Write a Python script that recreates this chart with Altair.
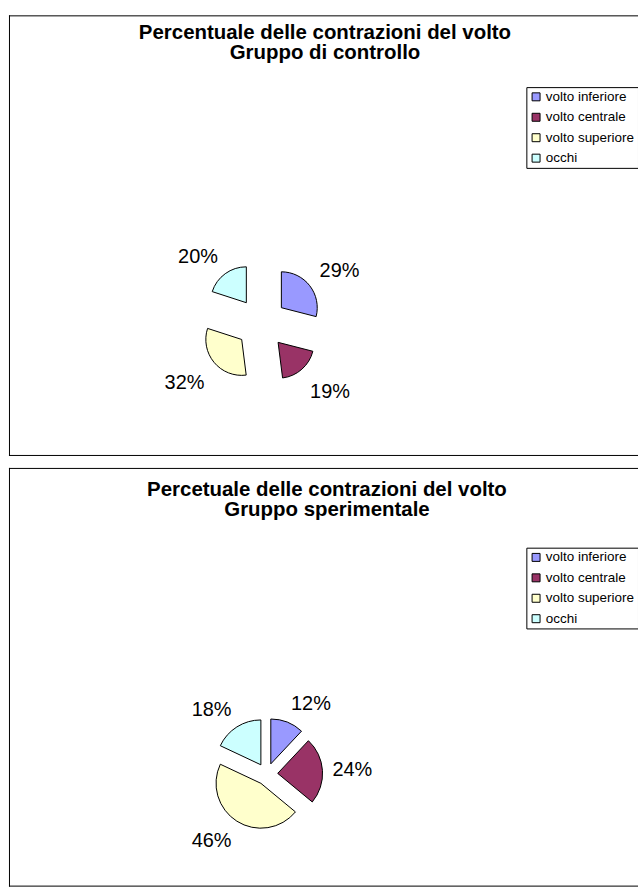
import altair as alt
import pandas as pd

categories = ["volto inferiore", "volto centrale", "volto superiore", "occhi"]
colors = ["#9999FF", "#993366", "#FFFFCC", "#CCFFFF"]
controllo = [29, 19, 32, 20]
sperimentale = [12, 24, 46, 18]

title_top = ["Percentuale delle contrazioni del volto", "Gruppo di controllo"]
title_bottom = ["Percetuale delle contrazioni del volto", "Gruppo sperimentale"]

FONT = "Liberation Sans"
PANEL_W = 650


def frame(width, height):
    one = pd.DataFrame({"a": [0]})
    top_r = alt.Chart(one).mark_rule(color="black", strokeWidth=1).encode(
        x=alt.value(0), x2=alt.value(width), y=alt.value(0.5))
    left_r = alt.Chart(one).mark_rule(color="black", strokeWidth=1).encode(
        x=alt.value(0.5), y=alt.value(0), y2=alt.value(height))
    bot_r = alt.Chart(one).mark_rule(color="black", strokeWidth=1).encode(
        x=alt.value(0), x2=alt.value(width), y=alt.value(height - 0.5))
    return [top_r, left_r, bot_r]


def panel(values, title_lines, height, cx, cy, radius, explode, lr, ldy,
          title_x, title_y, legend_y):
    df = pd.DataFrame({"cat": categories, "val": values, "ord": list(range(len(values)))})
    base = (
        alt.Chart(df)
        .transform_window(cum="sum(val)", sort=[alt.SortField("ord")])
        .transform_joinaggregate(total="sum(val)")
        .transform_calculate(
            a0="(datum.cum - datum.val) / datum.total * 2 * PI",
            a1="datum.cum / datum.total * 2 * PI",
        )
        .transform_calculate(am="(datum.a0 + datum.a1) / 2")
        .transform_calculate(
            px=f"{cx} + {explode} * sin(datum.am)",
            py=f"{cy} - {explode} * cos(datum.am)",
            lx=f"{cx} + {lr} * sin(datum.am) + 20 * clamp(3 * sin(datum.am), -1, 1)",
            ly=f"{cy} - {lr} * cos(datum.am) - 10 * clamp(3 * cos(datum.am), -1, 1) + {ldy}",
            lab="datum.val + '%'",
        )
    )
    arcs = base.mark_arc(stroke="black", strokeWidth=1, radius=radius).encode(
        x=alt.X("px:Q", scale=None, axis=None),
        y=alt.Y("py:Q", scale=None, axis=None),
        theta=alt.Theta("a0:Q", scale=None),
        theta2=alt.Theta2("a1:Q"),
        color=alt.Color(
            "cat:N",
            scale=alt.Scale(domain=categories, range=colors),
            legend=alt.Legend(
                title=None,
                orient="none",
                legendX=519,
                legendY=legend_y,
                strokeColor="black",
                fillColor="white",
                padding=3,
                symbolType="square",
                symbolSize=64,
                symbolStrokeColor="black",
                symbolStrokeWidth=1,
                symbolOpacity=1,
                labelFont=FONT,
                labelFontSize=13.5,
                labelColor="black",
                labelLimit=300,
                rowPadding=5.5,
                labelOffset=3,
            ),
        ),
    )
    labels = base.mark_text(font=FONT, fontSize=20, color="black", align="center", baseline="middle").encode(
        x=alt.X("lx:Q", scale=None, axis=None),
        y=alt.Y("ly:Q", scale=None, axis=None),
        text="lab:N",
    )
    tdf = pd.DataFrame({"t": title_lines, "row": [0, 1]})
    tdf["ty"] = [title_y, title_y + 20]
    titles = alt.Chart(tdf).mark_text(
        font=FONT, fontSize=20.5, fontWeight="bold", color="black", align="center", baseline="middle"
    ).encode(
        x=alt.value(title_x),
        y=alt.Y("ty:Q", scale=None, axis=None),
        text="t:N",
    )
    return alt.layer(arcs, labels, titles, *frame(PANEL_W, height)).properties(width=PANEL_W, height=height)


top = panel(controllo, title_top, 442, 253.1, 308.9, 36, 25.5, 74, 3, 317, 18, 72)
bottom = panel(sperimentale, title_bottom, 420, 258.6, 307.1, 45, 11, 66, 1.5, 319, 22, 80)

chart = (
    alt.vconcat(top, bottom, spacing=10)
    .resolve_scale(color="independent")
    .resolve_legend(color="independent")
    .properties(padding={"left": 8, "top": 13, "right": -20, "bottom": 0}, background="white")
    .configure_view(stroke=None)
)

chart.save("out.html", embed_options={"renderer": "svg", "actions": False})
